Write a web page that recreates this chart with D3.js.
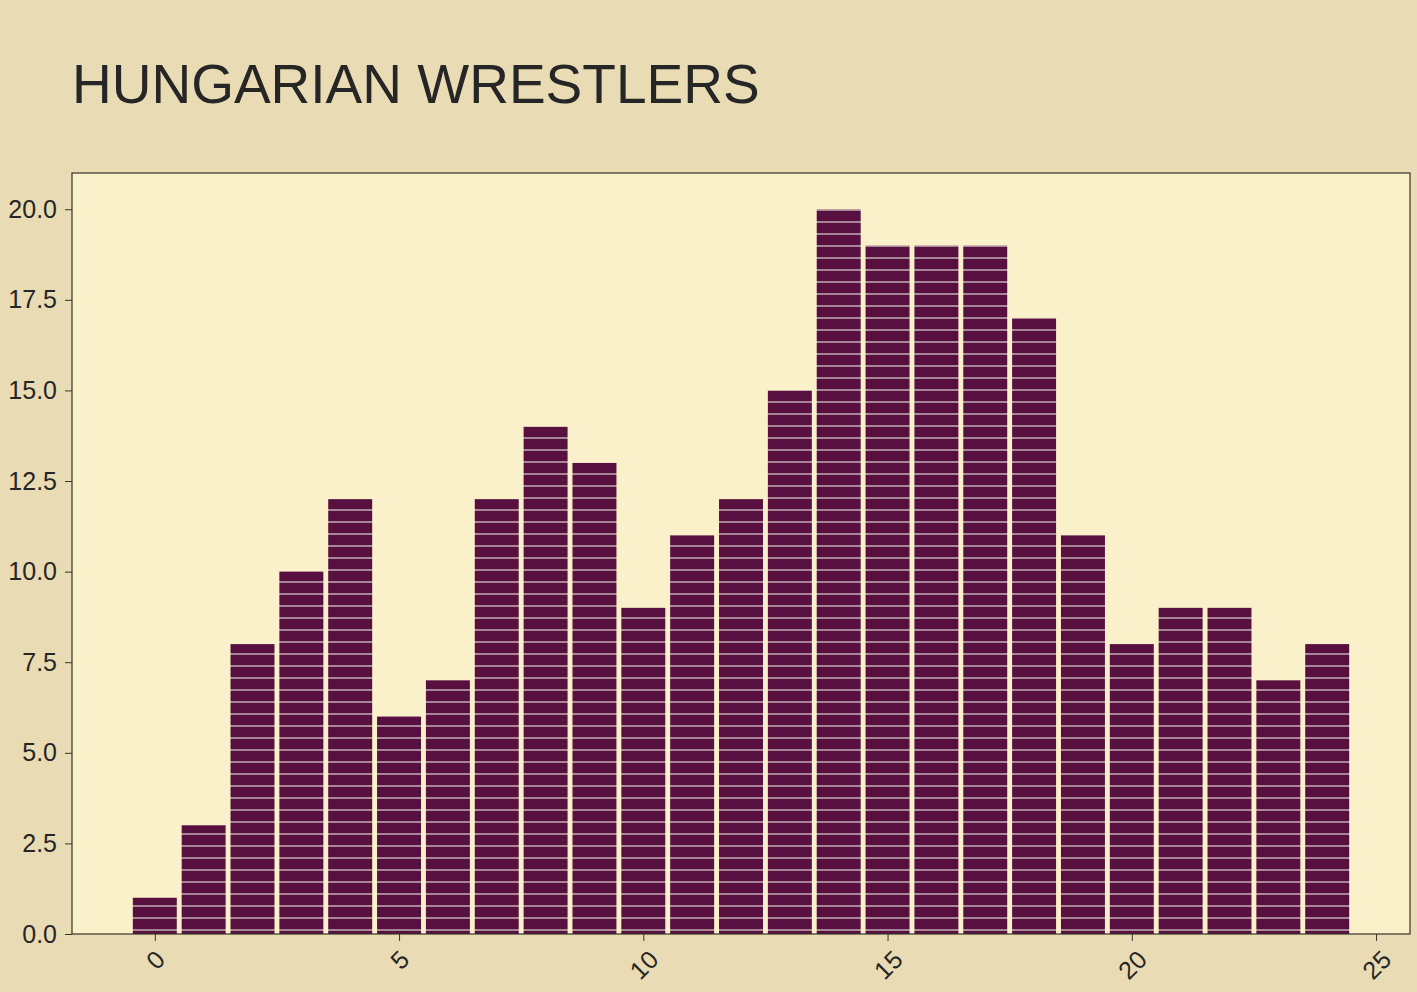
<!DOCTYPE html>
<html>
<head>
<meta charset="utf-8">
<script src="https://cdn.jsdelivr.net/npm/d3@7"></script>
<style>
  body { margin: 0; background: #e9dbb3; }
  svg { display: block; font-family: "Liberation Sans", Arial, sans-serif; }
</style>
</head>
<body>
<div id="chart"></div>
<script>
// Data
const bins = d3.range(0, 25);
const counts = [1, 3, 8, 10, 12, 6, 7, 12, 14, 13, 9, 11, 12, 15, 20, 19, 19, 19, 17, 11, 8, 9, 9, 7, 8];
const xTicks = [0, 5, 10, 15, 20, 25];
const yTicks = [0, 2.5, 5, 7.5, 10, 12.5, 15, 17.5, 20];
const title = "HUNGARIAN WRESTLERS";

const W = 1417, H = 992;
const margin = {top: 173, right: 7, bottom: 58, left: 72},
    width = W - margin.left - margin.right,
    height = H - margin.top - margin.bottom;

const svg = d3.select("#chart")
  .append("svg")
  .attr("width", W)
  .attr("height", H);

svg.append("rect")
  .attr("width", W).attr("height", H)
  .attr("fill", "#e9dbb3");

// hatch for the bars: horizontal lines every 12px
const defs = svg.append("defs");
const pat = defs.append("pattern")
  .attr("id", "hatch")
  .attr("patternUnits", "userSpaceOnUse")
  .attr("x", 0).attr("y", 0)
  .attr("width", 12).attr("height", 12);
pat.append("rect").attr("width", 12).attr("height", 12).attr("fill", "#581040");
pat.append("rect").attr("y", 0).attr("width", 12).attr("height", 2).attr("fill", "#a88696");

// Title
svg.append("text")
  .attr("x", 72)
  .attr("y", 103)
  .style("font-size", "55px")
  .attr("fill", "#262626")
  .text(title);

const g = svg.append("g")
  .attr("transform", `translate(${margin.left}, ${margin.top})`);

g.append("rect")
  .attr("width", width).attr("height", height)
  .attr("fill", "#faf0c9");

// scales (matplotlib-like 5% margins)
const barW = 0.9;
const lo = -barW / 2, hi = bins.length - 1 + barW / 2;
const pad = (hi - lo) * 0.05;
const x = d3.scaleLinear()
  .domain([lo - pad, hi + pad])
  .range([0, width]);

const y = d3.scaleLinear()
  .domain([0, d3.max(counts) * 1.05])
  .range([height, 0]);

// Bars
g.selectAll("rect.bar")
  .data(counts)
  .join("rect")
    .attr("class", "bar")
    .attr("x", (d, i) => x(bins[i] - barW / 2))
    .attr("width", x(barW) - x(0))
    .attr("y", d => y(d))
    .attr("height", d => y(0) - y(d))
    .attr("fill", "url(#hatch)");

// frame
g.append("rect")
  .attr("width", width).attr("height", height)
  .attr("fill", "none")
  .attr("stroke", "#3a3328")
  .attr("stroke-width", 1.2);

// Y axis
const yAxis = g.append("g")
  .call(d3.axisLeft(y).tickValues(yTicks).tickFormat(d3.format(".1f")).tickSize(7).tickPadding(8));
yAxis.select(".domain").remove();
yAxis.selectAll("line").attr("stroke", "#3a3328");
yAxis.selectAll("text")
  .style("font-size", "25px")
  .attr("fill", "#262626");

// X axis
const xAxis = g.append("g")
  .attr("transform", `translate(0, ${height})`)
  .call(d3.axisBottom(x).tickValues(xTicks).tickSize(7));
xAxis.select(".domain").remove();
xAxis.selectAll("line").attr("stroke", "#3a3328");
xAxis.selectAll("text")
  .style("font-size", "25px")
  .attr("fill", "#262626")
  .attr("dy", null)
  .attr("y", 0)
  .attr("dominant-baseline", "central")
  .style("text-anchor", "middle")
  .attr("transform", function() {
    const w = this.getComputedTextLength();
    const h = 28;
    const cy = 11 + (w + h) / (2 * Math.SQRT2);
    return `translate(0, ${cy}) rotate(-45)`;
  });
</script>
</body>
</html>
